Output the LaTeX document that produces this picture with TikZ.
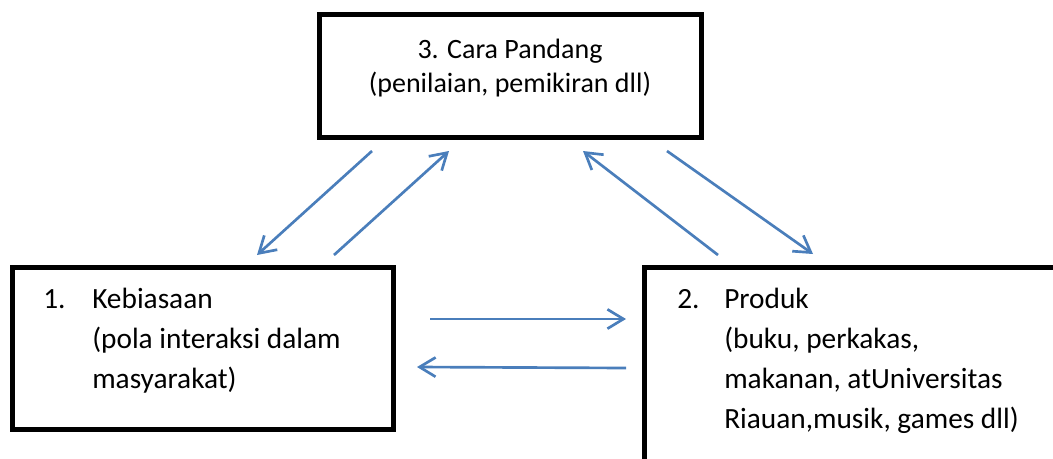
\documentclass[tikz,border=0pt]{standalone}
\usepackage{fontspec}
\setmainfont{Carlito}
\usetikzlibrary{arrows.meta}
\definecolor{biru}{RGB}{74,126,187}
\tikzset{
  kotak/.style={draw,line width=3.75pt,inner sep=0pt},
  panah/.style={draw=biru,line width=2pt,-{Straight Barb[length=12pt,width=14.5pt]}},
  teks/.style={font=\fontsize{21}{30}\selectfont,inner sep=0pt},
  teksisi/.style={teks,font=\fontsize{22}{30}\selectfont,anchor=base west}
}
\begin{document}
\begin{tikzpicture}[x=0.75pt,y=-0.75pt]
  \useasboundingbox (0,0) rectangle (1053,458);
  \clip (0,0) rectangle (1053,458);
  % kotak
  \node[kotak,minimum width=286.5pt,minimum height=92.25pt] (cara) at (510.5,76) {};
  \node[kotak,minimum width=285.75pt,minimum height=121.5pt] (kebiasaan) at (203,348.5) {};
  \node[kotak,minimum width=315pt,minimum height=157.5pt] (produk) at (854.5,372.5) {};
  % teks
  \node[teks,anchor=base] (t3a) at (510,58) {3. Cara Pandang};
  \node[teks,anchor=base] (t3b) at (510,92) {(penilaian, pemikiran dll)};
  \node[teksisi] (n1) at (43,308) {1.};
  \foreach \baris [count=\i] in {{Kebiasaan},{(pola interaksi dalam},{masyarakat)}}
    \node[teksisi] (t1\i) at (92,268+40*\i) {\baris};
  \node[teksisi] (n2) at (677,308) {2.};
  \foreach \baris [count=\i] in {{Produk},{(buku, perkakas,},{makanan, atUniversitas},{Riauan,musik, games dll)}}
    \node[teksisi] (t2\i) at (724,268+40*\i) {\baris};
  % panah
  \coordinate (a1) at (372,151); \coordinate (b1) at (257,255);
  \coordinate (a2) at (334,255); \coordinate (b2) at (449,151);
  \coordinate (a3) at (718,255); \coordinate (b3) at (583,151);
  \coordinate (a4) at (667,151); \coordinate (b4) at (813,254);
  \coordinate (a5) at (430,319); \coordinate (b5) at (626,319);
  \coordinate (a6) at (626,368); \coordinate (b6) at (417,367);
  \foreach \k in {1,...,6}
    \draw[panah] (a\k) -- (b\k);
\end{tikzpicture}
\end{document}
